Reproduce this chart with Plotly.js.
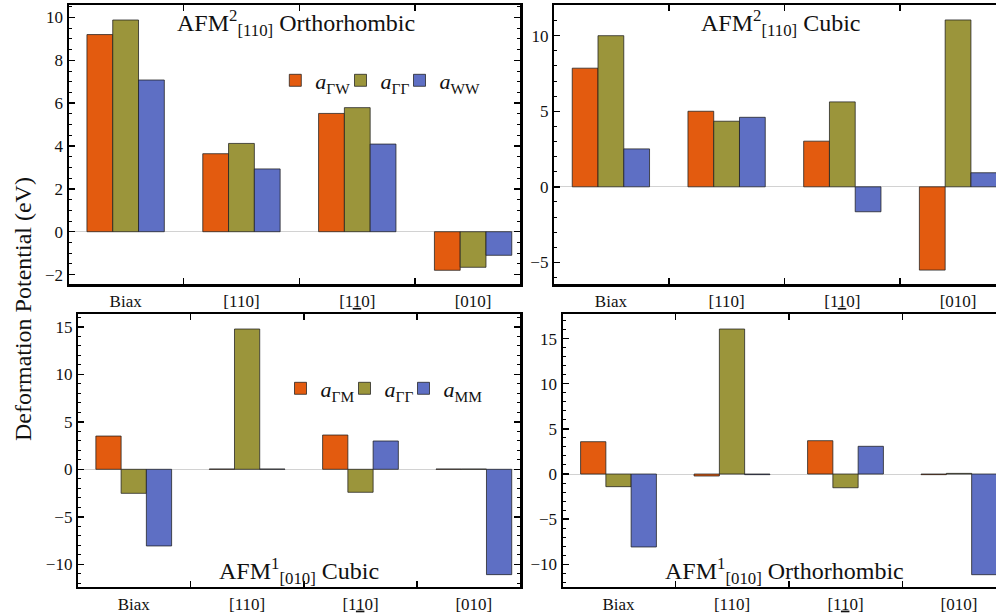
<!DOCTYPE html>
<html>
<head>
<meta charset="utf-8">
<script src="https://cdn.plot.ly/plotly-3.0.1.min.js"></script>
<style>html,body{margin:0;padding:0;background:#fff;}#chart{width:996px;height:616px;}</style>
</head>
<body>
<div id="chart"></div>
<script>
// ---- data ----
const categories = ['Biax', '[110]', '[1<u>1</u>0]', '[010]'];

// AFM2[110] Orthorhombic (top-left)
const tlGW = [9.2, 3.64, 5.52, -1.80];
const tlGG = [9.88, 4.12, 5.79, -1.66];
const tlWW = [7.08, 2.93, 4.09, -1.10];

// AFM2[110] Cubic (top-right)
const trGW = [7.85, 5.0, 3.02, -5.51];
const trGG = [10.0, 4.34, 5.62, 11.04];
const trWW = [2.51, 4.6, -1.65, 0.93];

// AFM1[010] Cubic (bottom-left)
const blGM = [3.5, 0.03, 3.61, 0.03];
const blGG = [-2.53, 14.77, -2.42, 0.03];
const blMM = [-8.07, 0.03, 2.98, -11.09];

// AFM1[010] Orthorhombic (bottom-right)
const brGM = [3.58, -0.22, 3.69, -0.07];
const brGG = [-1.4, 16.06, -1.52, 0.07];
const brMM = [-8.08, -0.07, 3.07, -11.15];

const namesTop = ['<i>a</i><sub>ΓW</sub>', '<i>a</i><sub>ΓΓ</sub>', '<i>a</i><sub>WW</sub>'];
const namesBot = ['<i>a</i><sub>ΓM</sub>', '<i>a</i><sub>ΓΓ</sub>', '<i>a</i><sub>MM</sub>'];

// ---- style ----
const colors = ['#E35B0F', '#9B953B', '#5E6FC4'];
const FONT = 'Liberation Serif, Times New Roman, serif';
const BARGAP = 0.332;
const legTop = ['legend', 'legend2', 'legend3'];
const legBot = ['legend4', 'legend5', 'legend6'];

function bars(series, names, xa, ya, legends, show) {
  return series.map((s, k) => ({
    type: 'bar', x: categories, y: s, name: names[k],
    xaxis: xa, yaxis: ya, legend: legends[k], showlegend: show,
    marker: {color: colors[k], line: {color: 'rgba(30,30,30,0.75)', width: 1}},
    hoverinfo: 'skip'
  }));
}

const data = [].concat(
  bars([tlGW, tlGG, tlWW], namesTop, 'x', 'y', legTop, true),
  bars([trGW, trGG, trWW], namesTop, 'x2', 'y2', legTop, false),
  bars([blGM, blGG, blMM], namesBot, 'x3', 'y3', legBot, true),
  bars([brGM, brGG, brMM], namesBot, 'x4', 'y4', legBot, false)
);

// minor tick positions at bar centres (category units)
const w = (1 - BARGAP) / 3;
const minorX = [];
categories.forEach((c, i) => { minorX.push(i - w, i, i + w); });

function xa(domain, anchor, range) {
  return {
    domain: domain, anchor: anchor, type: 'category', range: range,
    showline: true, linecolor: '#000', linewidth: 2.5, mirror: 'ticks',
    ticks: 'inside', ticklen: 6, tickwidth: 1.5, tickcolor: '#000',
    tickson: 'boundaries', showgrid: false, zeroline: false,
    tickfont: {family: FONT, size: 17, color: '#111'}, fixedrange: true
  };
}
function xminor(over, anchor, range) {
  return {
    overlaying: over, anchor: anchor, type: 'linear', range: range,
    tickmode: 'array', tickvals: minorX, showticklabels: false,
    ticks: 'inside', ticklen: 3, tickwidth: 1, tickcolor: '#000',
    mirror: 'ticks', showline: false, showgrid: false, zeroline: false
  };
}
function ya(domain, anchor, range, dtick, mdt, mirror) {
  return {
    domain: domain, anchor: anchor, range: range, dtick: dtick,
    showline: true, linecolor: '#000', linewidth: 2.5, mirror: mirror,
    ticks: 'inside', ticklen: 6, tickwidth: 1.5, tickcolor: '#000',
    minor: {dtick: mdt, ticks: 'inside', ticklen: 3, tickwidth: 1, tickcolor: '#000', showgrid: false},
    showgrid: false, zeroline: true, zerolinecolor: '#d2d2d2', zerolinewidth: 1,
    tickfont: {family: FONT, size: 17, color: '#111'}, fixedrange: true
  };
}

const yTop = [1 - 284 / 616, 1 - 5 / 616];
const yBot = [1 - 586.7 / 616, 1 - 314.3 / 616];
const rTL = [-0.489, 3.405], rTR = [-0.489, 3.328], rBL = [-0.489, 3.407], rBR = [-0.489, 3.326];

function legendCfg(xc, yc) {
  return {
    orientation: 'h', x: (xc - 20) / 996, xanchor: 'left',
    y: 1 - yc / 616, yanchor: 'middle', bgcolor: 'rgba(0,0,0,0)',
    font: {family: FONT, size: 22, color: '#111'}, itemwidth: 30,
    itemclick: false, itemdoubleclick: false
  };
}

const layout = {
  width: 996, height: 616,
  margin: {l: 0, r: 0, t: 0, b: 0},
  paper_bgcolor: '#fff', plot_bgcolor: '#fff',
  barmode: 'group', bargap: BARGAP, bargroupgap: 0,
  hovermode: false,
  font: {family: FONT, color: '#111'},
  xaxis: xa([69 / 996, 520 / 996], 'y', rTL),
  xaxis2: xa([554.3 / 996, 1], 'y2', rTR),
  xaxis3: xa([78.3 / 996, 520 / 996], 'y3', rBL),
  xaxis4: xa([563 / 996, 1], 'y4', rBR),
  xaxis5: xminor('x', 'y', rTL),
  xaxis6: xminor('x2', 'y2', rTR),
  xaxis7: xminor('x3', 'y3', rBL),
  xaxis8: xminor('x4', 'y4', rBR),
  yaxis: ya(yTop, 'x', [-2.44, 10.58], 2, 0.5, 'ticks'),
  yaxis2: ya(yTop, 'x2', [-6.43, 12.03], 5, 1, false),
  yaxis3: ya(yBot, 'x3', [-12.36, 16.32], 5, 1, 'ticks'),
  yaxis4: ya(yBot, 'x4', [-12.48, 17.69], 5, 1, false),
  legend: legendCfg(295.3, 80.5),
  legend2: legendCfg(360.5, 80.5),
  legend3: legendCfg(419.5, 80.5),
  legend4: legendCfg(300.5, 388.5),
  legend5: legendCfg(364.5, 388.5),
  legend6: legendCfg(423.5, 388.5),
  annotations: [
    {text: 'AFM<sup>2</sup><sub>[110]</sub> Orthorhombic', xref: 'paper', yref: 'paper',
     x: 295.5 / 996, y: 1 - 4 / 616, xanchor: 'center', yanchor: 'top', showarrow: false,
     font: {family: FONT, size: 24, color: '#111'}},
    {text: 'AFM<sup>2</sup><sub>[110]</sub> Cubic', xref: 'paper', yref: 'paper',
     x: 780 / 996, y: 1 - 4 / 616, xanchor: 'center', yanchor: 'top', showarrow: false,
     font: {family: FONT, size: 24, color: '#111'}},
    {text: 'AFM<sup>1</sup><sub>[010]</sub> Cubic', xref: 'paper', yref: 'paper',
     x: 299 / 996, y: 1 - 590 / 616, xanchor: 'center', yanchor: 'bottom', showarrow: false,
     font: {family: FONT, size: 24, color: '#111'}},
    {text: 'AFM<sup>1</sup><sub>[010]</sub> Orthorhombic', xref: 'paper', yref: 'paper',
     x: 784.5 / 996, y: 1 - 590 / 616, xanchor: 'center', yanchor: 'bottom', showarrow: false,
     font: {family: FONT, size: 24, color: '#111'}},
    {text: 'Deformation Potential (eV)', xref: 'paper', yref: 'paper', textangle: -90,
     x: 23 / 996, y: 1 - 309 / 616, xanchor: 'center', yanchor: 'middle', showarrow: false,
     font: {family: FONT, size: 24, color: '#111'}}
  ]
};

Plotly.newPlot('chart', data, layout, {displayModeBar: false, staticPlot: true});
</script>
</body>
</html>
